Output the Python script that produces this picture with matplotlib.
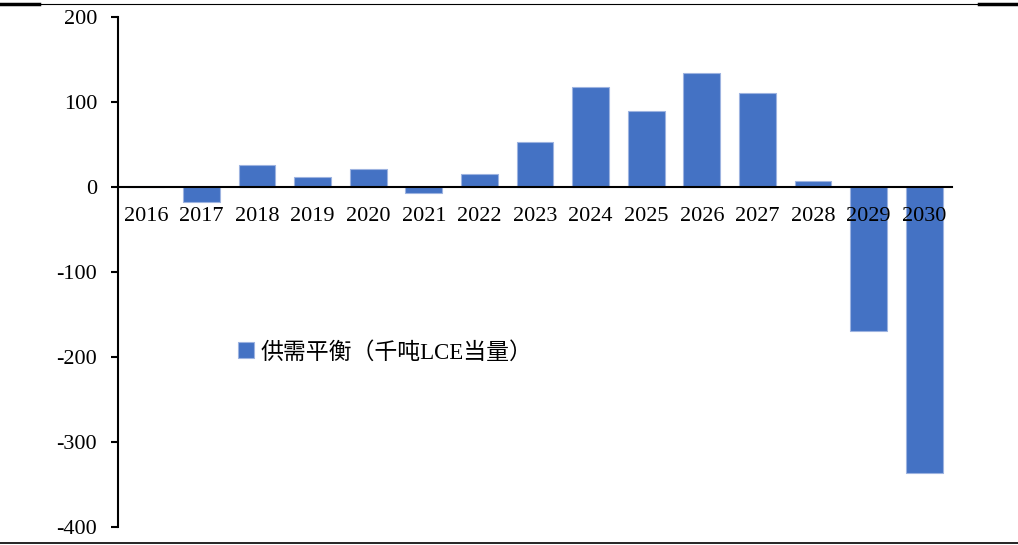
"""
供需平衡柱状图（千吨LCE当量），2016-2030
"""

import matplotlib
matplotlib.use("Agg")
import matplotlib.pyplot as plt
from matplotlib.lines import Line2D

YEARS = ["2016", "2017", "2018", "2019", "2020", "2021", "2022", "2023",
         "2024", "2025", "2026", "2027", "2028", "2029", "2030"]
BALANCE = [0, -17.5, 25.5, 12, 21.5, -7.5, 15.5, 52.5,
           118, 89, 134.5, 110, 6.5, -169, -337]
SERIES_LABEL = "供需平衡（千吨LCE当量）"
Y_TICKS = [-400, -300, -200, -100, 0, 100, 200]

BAR_COLOR = "#4472C4"
FONT = ["Liberation Serif", "Noto Sans CJK SC", "DejaVu Sans"]

plt.rcParams["font.family"] = FONT

W, H = 1018, 545
fig = plt.figure(figsize=(W / 100, H / 100), dpi=100)
ax = fig.add_axes([118 / W, 1 - 527 / H, (952 - 118) / W, (527 - 17) / H])

x = range(len(YEARS))
ax.bar(x, BALANCE, width=0.66, color=BAR_COLOR, edgecolor="#9db3e0",
       linewidth=0.8, label=SERIES_LABEL, zorder=1)

ax.set_xlim(-0.5, len(YEARS) - 0.5)
ax.set_ylim(-400, 200)
ax.set_yticks(Y_TICKS)
ax.set_yticklabels([str(v) for v in Y_TICKS])
ax.set_xticks(list(x))
ax.set_xticklabels(YEARS)

# 横轴放在 0 处，年份标签紧贴零线下方
ax.spines["bottom"].set_position(("data", 0))
ax.spines["bottom"].set_linewidth(1.5)
ax.spines["left"].set_linewidth(1.5)
ax.spines["top"].set_visible(False)
ax.spines["right"].set_visible(False)
ax.tick_params(axis="x", length=0, pad=14.5, labelsize=16)
ax.tick_params(axis="y", direction="out", length=5, width=1.5, pad=10,
               labelsize=16)

ax.legend(loc="upper left", bbox_to_anchor=(217 / W, 1 - 321 / H),
          bbox_transform=fig.transFigure, frameon=False,
          handlelength=0.7, handleheight=0.7, handletextpad=0.3,
          prop={"family": FONT, "size": 16.5})

# 页面上下的分隔线
fig.add_artist(Line2D([0, 39 / W], [1 - 3.5 / H] * 2, color="black", lw=2.5))
fig.add_artist(Line2D([979 / W, 1], [1 - 3.5 / H] * 2, color="black", lw=2.5))
fig.add_artist(Line2D([39 / W, 979 / W], [1 - 4 / H] * 2, color="black", lw=0.8))
fig.add_artist(Line2D([0, 1], [1 - 543 / H] * 2, color="black", lw=1.2))

fig.savefig("out.png", dpi=100)
